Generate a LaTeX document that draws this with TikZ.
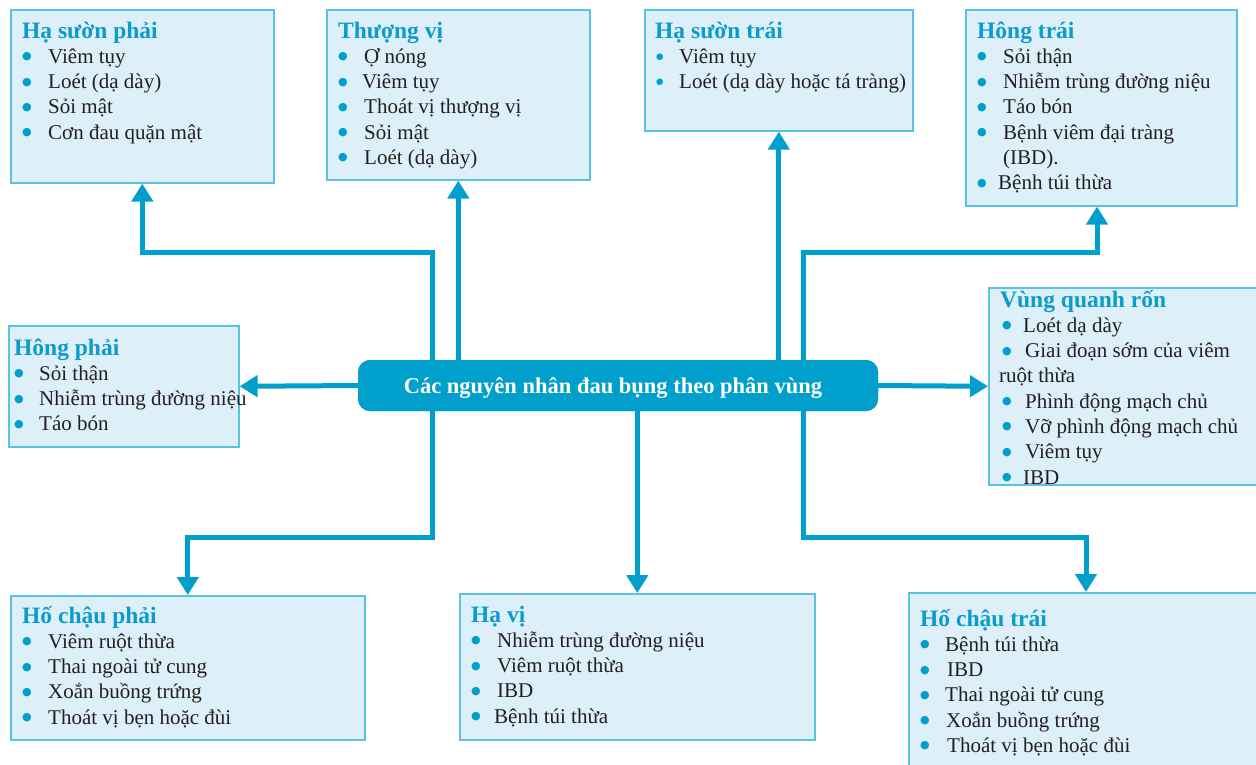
\documentclass[tikz,border=0pt]{standalone}
\usepackage{fontspec}
\setmainfont{Liberation Serif}
\newfontfamily\symf{DejaVu Sans}
\usetikzlibrary{arrows.meta}

\definecolor{teal1}{HTML}{009FCC}
\definecolor{boxfill}{HTML}{DDEFF8}
\definecolor{boxline}{HTML}{5BC3E2}
\definecolor{ink}{HTML}{231F20}
\definecolor{ttl}{HTML}{0B9BCD}

% heading line of a box
\newcommand\hd[1]{\hbox{\fontsize{23.5}{25}\selectfont\bfseries\color{ttl}#1}}
% bullet dots
\newcommand\bigdot{\raisebox{3.6pt}{\symf\fontsize{11}{12}\selectfont\textcolor{teal1}{●}}}
\newcommand\smalldot{\raisebox{4.2pt}{\symf\fontsize{8.5}{9}\selectfont\textcolor{teal1}{●}}}
% bullet line: optional text indent
\newcommand\bl[2][26pt]{\hbox{\makebox[#1][l]{\hspace*{0pt}\bigdot}#2}}
\newcommand\blv[2][24pt]{\hbox{\makebox[#1][l]{\hspace*{2pt}\bigdot}#2}}
\newcommand\sbl[1]{\hbox{\makebox[24pt][l]{\hspace*{1pt}\smalldot}#1}}
% plain continuation line
\newcommand\pl[1]{\hbox{#1}}
% stack of lines with fixed spacing
\newcommand\stk[1]{\vtop{\baselineskip=25.3pt\lineskiplimit=-20pt\lineskip=0pt #1}}

\tikzset{
  box/.style={draw=boxline, fill=boxfill, line width=1.6pt, inner sep=0pt, anchor=north west},
  txt/.style={anchor=base west, inner sep=0pt, text=ink, font=\fontsize{21}{25.3}\selectfont},
  hub/.style={fill=teal1, rounded corners=12pt, inner sep=0pt, minimum width=520pt, minimum height=51pt},
  conn/.style={draw=teal1, line width=5pt, line join=miter, -{Triangle[width=21pt,length=18pt]}}
}

\begin{document}
\begin{tikzpicture}[x=1pt,y=-1pt]
\clip (0,0) rectangle (1256,764);
\fill[white] (0,0) rectangle (1256,764);

% region boxes
\node[box, minimum width=263pt, minimum height=173pt] (hsp) at (10,9) {};
\node[box, minimum width=263pt, minimum height=170pt] (tv)  at (326,9) {};
\node[box, minimum width=268pt, minimum height=121pt] (hst) at (644,9) {};
\node[box, minimum width=271pt, minimum height=196pt] (ht)  at (965,9) {};
\node[box, minimum width=230pt, minimum height=121pt] (hp)  at (8,325) {};
\node[box, minimum width=280pt, minimum height=197pt] (vqr) at (988,287) {};
\node[box, minimum width=354pt, minimum height=144pt] (hcp) at (10,595) {};
\node[box, minimum width=355pt, minimum height=146pt] (hv)  at (459,593) {};
\node[box, minimum width=360pt, minimum height=190pt] (hct) at (908,592) {};

% box contents
\node[txt] (hsp-t) at (22,38) {\stk{\hd{Hạ sườn phải}\bl{Viêm tụy}\bl{Loét (dạ dày)}\bl{Sỏi mật}\bl{Cơn đau quặn mật}}};
\node[txt] (tv-t) at (338,38) {\stk{\hd{Thượng vị}\bl{Ợ nóng}\bl[24pt]{Viêm tụy}\bl{Thoát vị thượng vị}\bl{Sỏi mật}\bl{Loét (dạ dày)}}};
\node[txt] (hst-t) at (655,38) {\stk{\hd{Hạ sườn trái}\sbl{Viêm tụy}\sbl{Loét (dạ dày hoặc tá tràng)}}};
\node[txt] (ht-t) at (977,38) {\stk{\hd{Hông trái}\bl{Sỏi thận}\bl{Nhiễm trùng đường niệu}\bl{Táo bón}\bl{Bệnh viêm đại tràng}\pl{\hspace*{26pt}(IBD).}\bl[21pt]{Bệnh túi thừa}}};
\node[txt] (hp-t) at (14,355) {\stk{\hd{Hông phải}\bl[25pt]{Sỏi thận}\bl[25pt]{Nhiễm trùng đường niệu}\bl[25pt]{Táo bón}}};
\node[txt] (vqr-t) at (1000,307) {\stk{\hd{Vùng quanh rốn}\blv[23pt]{Loét dạ dày}\blv[25pt]{Giai đoạn sớm của viêm}\pl{\hspace*{-1pt}ruột thừa}\blv[25pt]{Phình động mạch chủ}\blv[25pt]{Vỡ phình động mạch chủ}\blv[25pt]{Viêm tụy}\blv[23pt]{IBD}}};
\node[txt] (hcp-t) at (22,623) {\stk{\hd{Hố chậu phải}\bl{Viêm ruột thừa}\bl{Thai ngoài tử cung}\bl{Xoắn buồng trứng}\bl{Thoát vị bẹn hoặc đùi}}};
\node[txt] (hv-t) at (471,622) {\stk{\hd{Hạ vị}\bl{Nhiễm trùng đường niệu}\bl{Viêm ruột thừa}\bl{IBD}\bl[23pt]{Bệnh túi thừa}}};
\node[txt] (hct-t) at (920,626) {\stk{\hd{Hố chậu trái}\bl[25pt]{Bệnh túi thừa}\bl[27pt]{IBD}\bl[25pt]{Thai ngoài tử cung}\bl[26pt]{Xoắn buồng trứng}\bl[27pt]{Thoát vị bẹn hoặc đùi}}};

% routing points
\coordinate (xa) at (432,0);
\coordinate (xb) at (803,0);
\coordinate (xc) at (1097,0);
\coordinate (xe) at (1086,0);
\coordinate (yb) at (0,252);
\coordinate (yd) at (0,537);

% hub
\node[hub] (c) at (618,385.5) {};

% connectors
\draw[conn] (c.north -| xa) -- (xa |- yb) -| (hsp.south);
\draw[conn] (c.north -| tv.south) -- (tv.south);
\draw[conn] (c.north -| hst.south) -- (hst.south);
\draw[conn] (c.north -| xb) -- (xb |- yb) -| (ht.south -| xc);
\draw[conn] (c.west) -- (hp.east);
\draw[conn] (c.east) -- (vqr.west);
\draw[conn] (c.south -| xa) -- (xa |- yd) -| (hcp.north);
\draw[conn] (c.south -| hv.north) -- (hv.north);
\draw[conn] (c.south -| xb) -- (xb |- yd) -| (hct.north -| xe);

% hub drawn over the line ends
\node[hub] (c2) at (618,385.5) {};
\node[anchor=base, inner sep=0pt, text=white, font=\fontsize{22.5}{25}\selectfont\bfseries] (ct) at (613,393) {Các nguyên nhân đau bụng theo phân vùng};
\end{tikzpicture}
\end{document}
